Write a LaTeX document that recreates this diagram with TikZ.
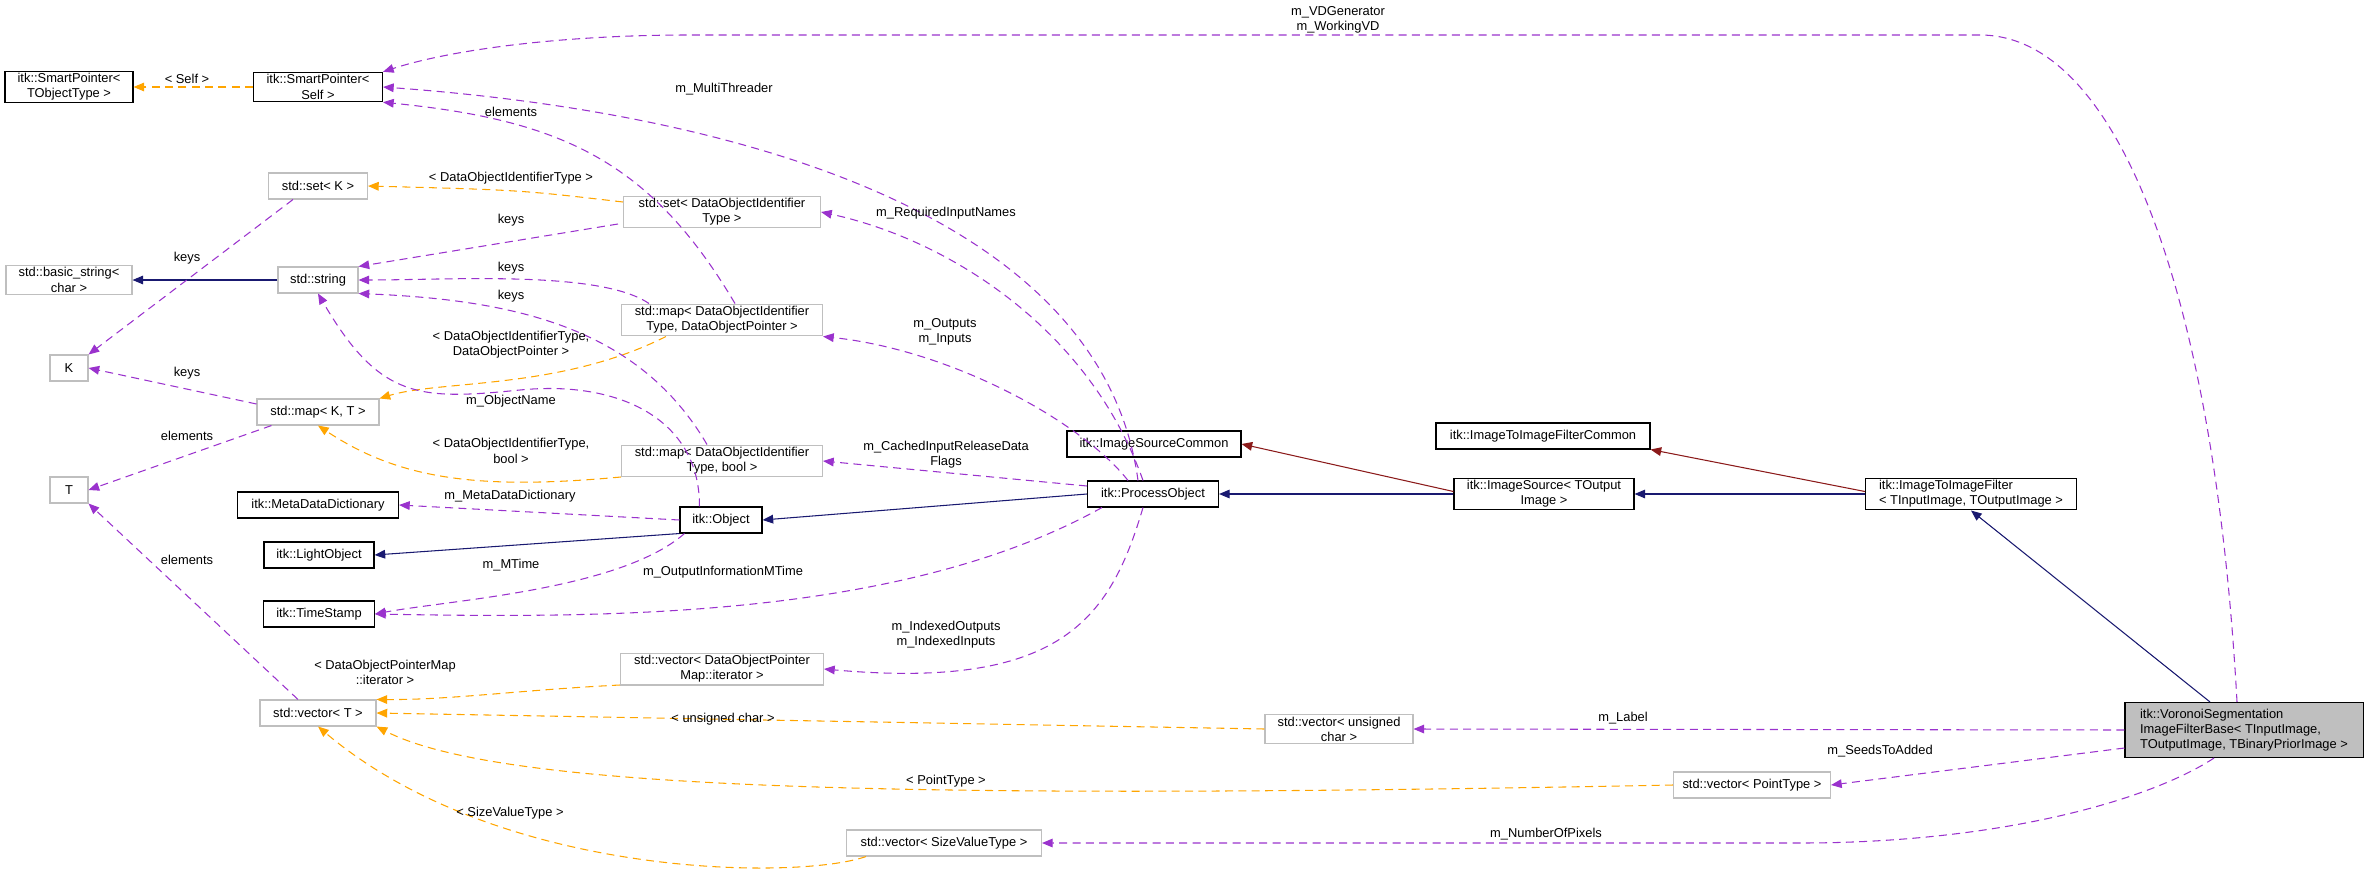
\documentclass[tikz,border=0pt]{standalone}
\usepackage{fontspec}
\setmainfont{Liberation Sans}
\usetikzlibrary{arrows.meta}
\definecolor{memcol}{HTML}{9A32CD}
\definecolor{tplcol}{HTML}{FFA500}
\definecolor{inhcol}{HTML}{191970}
\definecolor{prvcol}{HTML}{8B1A1A}
\definecolor{boxgray}{HTML}{BFBFBF}
\begin{document}
\begin{tikzpicture}[x=0.3mm,y=-0.3mm,
  font=\fontsize{11}{13}\selectfont,
  box/.style={draw=black,line width=0.9pt,fill=white,align=center,inner sep=2pt,minimum height=7.8mm},
  gbox/.style={box,draw=boxgray},
  lbl/.style={inner sep=0pt,align=center},
  tip/.style={-{Triangle[length=3.2mm,width=2.6mm]}},
  member/.style={tip,draw=memcol,line width=0.9pt,dash pattern=on 2.4mm off 1.6mm},
  tmpl/.style={tip,draw=tplcol,line width=0.9pt,dash pattern=on 2.4mm off 1.6mm},
  inh/.style={tip,draw=inhcol,line width=0.9pt},
  prv/.style={tip,draw=prvcol,line width=0.9pt}]
\useasboundingbox (0,0) rectangle (2368,875);

% classes
\node[box,minimum width=38.4mm] (sptobj) at (69,87) {itk::SmartPointer<\\TObjectType >};
\node[box,minimum width=38.7mm] (spself) at (318,87) {itk::SmartPointer<\\Self >};
\node[gbox,minimum width=29.7mm] (setk) at (318,186) {std::set< K >};
\node[gbox,minimum width=37.8mm] (bstring) at (69,280) {std::basic\_string<\\char >};
\node[gbox,minimum width=24mm] (string) at (318,280) {std::string};
\node[gbox,minimum width=11.4mm] (k) at (69,368) {K};
\node[gbox,minimum width=36.6mm] (mapkt) at (318,412) {std::map< K, T >};
\node[gbox,minimum width=11.4mm] (t) at (69,490) {T};
\node[box,minimum width=48.3mm] (metadict) at (318,505) {itk::MetaDataDictionary};
\node[box,minimum width=33mm] (lightobj) at (319,555) {itk::LightObject};
\node[box,minimum width=33.3mm] (timestamp) at (319,614) {itk::TimeStamp};
\node[gbox,minimum width=34.8mm] (vectort) at (318,713) {std::vector< T >};
\node[gbox,minimum width=59.1mm] (setdoi) at (722,212) {std::set< DataObjectIdentifier\\Type >};
\node[gbox,minimum width=60.3mm] (mapdop) at (722,320) {std::map< DataObjectIdentifier\\Type, DataObjectPointer >};
\node[gbox,minimum width=60.3mm] (mapbool) at (722,461) {std::map< DataObjectIdentifier\\Type, bool >};
\node[box,minimum width=24.6mm] (object) at (721,520) {itk::Object};
\node[gbox,minimum width=60.9mm] (vecdopm) at (722,669) {std::vector< DataObjectPointer\\Map::iterator >};
\node[box,minimum width=52.2mm] (iscommon) at (1154,444) {itk::ImageSourceCommon};
\node[box,minimum width=39.3mm] (procobj) at (1153,494) {itk::ProcessObject};
\node[box,minimum width=54mm] (imgsource) at (1544,494) {itk::ImageSource< TOutput\\Image >};
\node[box,minimum width=64.2mm] (iifcommon) at (1543,436) {itk::ImageToImageFilterCommon};
\node[box,minimum width=63.3mm,align=left] (iifilter) at (1971,494) {itk::ImageToImageFilter\\< TInputImage, TOutputImage >};
\node[gbox,minimum width=44.4mm] (vecuchar) at (1339,729) {std::vector< unsigned\\char >};
\node[gbox,minimum width=47.1mm] (vecpoint) at (1752,785) {std::vector< PointType >};
\node[gbox,minimum width=58.5mm] (vecsize) at (944,843) {std::vector< SizeValueType >};
\node[box,fill=boxgray,minimum width=71.4mm,minimum height=16.5mm,align=left] (voronoi) at (2244,730) {itk::VoronoiSegmentation\\ImageFilterBase< TInputImage,\\ TOutputImage, TBinaryPriorImage >};

% inheritance
\draw[inh] (string) -- (bstring);
\draw[inh] (object.south west) -- (lightobj.east);
\draw[inh] (procobj.west) -- (object.east);
\draw[inh] (imgsource) -- (procobj);
\draw[inh] (iifilter) -- (imgsource);
\draw[inh] (voronoi.north) ++(-34,0) coordinate (vtop) (vtop) -- (iifilter.south);
\draw[prv] (imgsource.north west) ++(0,14) coordinate (istop) (istop) -- (iscommon.east);
\draw[prv] (iifilter.north west) ++(0,14) coordinate (iftop) (iftop) -- (iifcommon.south east);

% template instances
\draw[tmpl] (spself) -- (sptobj);
\draw[tmpl] (setdoi.west) ++(0,-10) coordinate (sd1) (sd1) .. controls (520,190) .. (setk.east);
\draw[tmpl] (mapdop.south west) ++(45,0) coordinate (md1) (md1) .. controls (560,390) and (440,380) .. (mapkt.north east);
\draw[tmpl] (mapbool.west) ++(0,16) coordinate (mb1) (mb1) .. controls (480,490) and (400,480) .. (mapkt.south);
\draw[tmpl] (vecdopm.west) ++(0,16) coordinate (vd1) (vd1) .. controls (520,690) and (450,700) .. (vectort.north east);
\draw[tmpl] (vecuchar.west) -- (vectort.east);
\draw[tmpl] (vecpoint.west) .. controls (900,800) and (500,790) .. (vectort.south east);
\draw[tmpl] (vecsize.south west) ++(20,0) coordinate (vs1) (vs1) .. controls (800,880) and (500,880) .. (vectort.south);

% members
\draw[member] (voronoi.north) ++(-7,0) coordinate (vtop2) (vtop2) .. controls (2215,300) and (2120,35) .. (1980,35) -- (689,35) .. controls (560,35) and (450,50) .. (spself.north east);
\draw[member] (procobj.north) ++(-15,0) coordinate (po1) (po1) .. controls (1100,200) and (700,110) .. (spself.east);
\draw[member] (mapdop.north) ++(13,0) coordinate (md2) (md2) .. controls (650,160) and (560,120) .. (spself.south east);
\draw[member] (setdoi.west) ++(-5,12) coordinate (sd2) (sd2) -- (string.north east);
\draw[member] (mapdop.north west) ++(28,0) coordinate (md3) (md3) .. controls (600,270) and (450,280) .. (string.east);
\draw[member] (mapbool.north) ++(-15,0) coordinate (mb2) (mb2) .. controls (640,330) and (520,300) .. (string.south east);
\draw[member] (object.north west) ++(20,0) coordinate (ob1) (ob1) .. controls (700,420) and (620,380) .. (520,390) .. controls (420,400) and (380,400) .. (string.south);
\draw[member] (setk.south west) ++(25,0) coordinate (sk1) (sk1) -- (k.north east);
\draw[member] (mapkt.west) ++(0,-8) coordinate (mk1) (mk1) -- (k.east);
\draw[member] (mapkt.south west) ++(15,0) coordinate (mk2) (mk2) -- (t.east);
\draw[member] (vectort.north) ++(-20,0) coordinate (vt1) (vt1) -- (t.south east);
\draw[member] (object.west) -- (metadict.east);
\draw[member] (object.south west) ++(5,0) coordinate (ob2) (ob2) .. controls (620,590) and (450,600) .. (timestamp.east);
\draw[member] (procobj.south west) ++(15,0) coordinate (po2) (po2) .. controls (900,620) and (600,618) .. (timestamp.east);
\draw[member] (procobj.north) ++(-10,0) coordinate (po3) (po3) .. controls (1090,330) and (950,240) .. (setdoi.east);
\draw[member] (procobj.north) ++(-25,0) coordinate (po4) (po4) .. controls (1080,420) and (950,350) .. (mapdop.south east);
\draw[member] (procobj.west) ++(0,-8) coordinate (po5) (po5) -- (mapbool.east);
\draw[member] (procobj.south) ++(-10,0) coordinate (po6) (po6) .. controls (1110,620) and (1060,690) .. (vecdopm.east);
\draw[member] (voronoi.west) -- (vecuchar.east);
\draw[member] (voronoi.west) ++(0,18) coordinate (vw1) (vw1) -- (vecpoint.east);
\draw[member] (voronoi.south) ++(-30,0) coordinate (vb1) (vb1) .. controls (2150,800) and (2000,843) .. (1800,843) -- (vecsize.east);

% labels
\node[lbl] (lself) at (187,79) {< Self >};
\node[lbl] (ldoitype) at (511,178) {< DataObjectIdentifierType >};
\node[lbl] (ldoidop) at (511,345) {< DataObjectIdentifierType,\\DataObjectPointer >};
\node[lbl] (ldoibool) at (511,451) {< DataObjectIdentifierType,\\bool >};
\node[lbl] (ldopm) at (385,672) {< DataObjectPointerMap\\::iterator >};
\node[lbl] (luchar) at (723,719) {< unsigned char >};
\node[lbl] (lpoint) at (946,781) {< PointType >};
\node[lbl] (lsize) at (510,813) {< SizeValueType >};
\node[lbl] (lvd) at (1338,20) {m\_VDGenerator\\m\_WorkingVD};
\node[lbl] (lthread) at (724,89) {m\_MultiThreader};
\node[lbl] (lelem1) at (511,112) {elements};
\node[lbl] (lkeys1) at (511,220) {keys};
\node[lbl] (lkeys2) at (511,268) {keys};
\node[lbl] (lkeys3) at (511,296) {keys};
\node[lbl] (lobjname) at (511,401) {m\_ObjectName};
\node[lbl] (lkeys4) at (187,258) {keys};
\node[lbl] (lkeys5) at (187,373) {keys};
\node[lbl] (lelem2) at (187,436) {elements};
\node[lbl] (lelem3) at (187,560) {elements};
\node[lbl] (lmeta) at (510,496) {m\_MetaDataDictionary};
\node[lbl] (lmtime) at (511,565) {m\_MTime};
\node[lbl] (loutinfo) at (723,572) {m\_OutputInformationMTime};
\node[lbl] (lreq) at (946,213) {m\_RequiredInputNames};
\node[lbl] (lout) at (945,332) {m\_Outputs\\m\_Inputs};
\node[lbl] (lcached) at (946,455) {m\_CachedInputReleaseData\\Flags};
\node[lbl] (lindexed) at (946,635) {m\_IndexedOutputs\\m\_IndexedInputs};
\node[lbl] (llabel) at (1623,718) {m\_Label};
\node[lbl] (lseeds) at (1880,751) {m\_SeedsToAdded};
\node[lbl] (lnum) at (1546,834) {m\_NumberOfPixels};
\end{tikzpicture}
\end{document}
